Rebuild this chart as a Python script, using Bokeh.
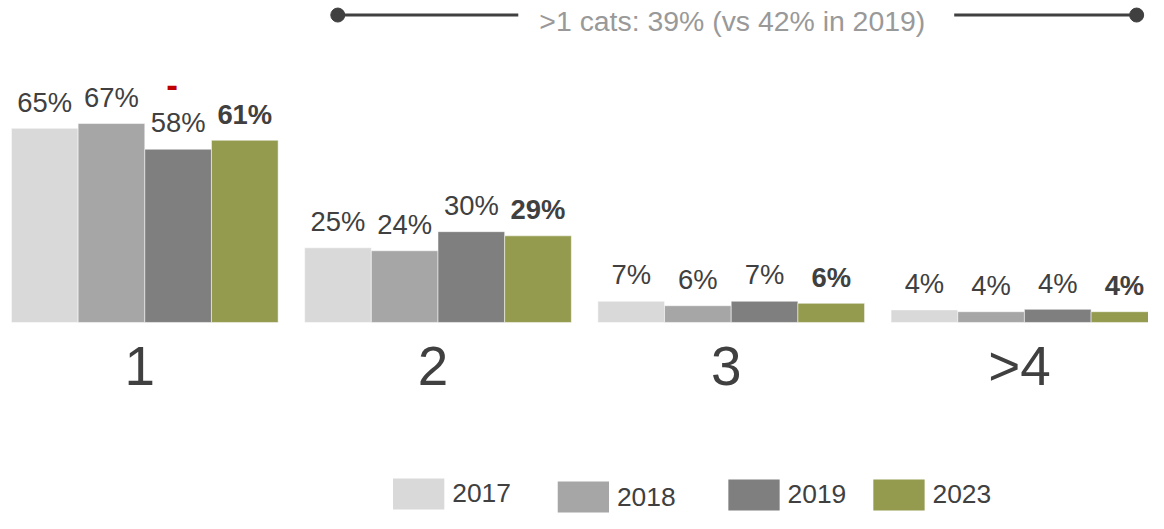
from bokeh.plotting import figure
from bokeh.models import Range1d, ColumnDataSource
from bokeh.embed import file_html
from bokeh.resources import INLINE
from bokeh.core.properties import value

# ---------------- data ----------------
categories = ["1", "2", "3", ">4"]
years = ["2017", "2018", "2019", "2023"]
v2017 = [65, 25, 7.1, 4.2]
v2018 = [66.6, 24, 5.6, 3.6]
v2019 = [58, 30.4, 7.1, 4.4]
v2023 = [61, 29, 6.4, 3.6]
series = [v2017, v2018, v2019, v2023]
note_text = ">1 cats: 39% (vs 42% in 2019)"
change_mark = "-"

# ---------------- style / layout ----------------
colors = ["#d9d9d9", "#a6a6a6", "#7f7f7f", "#949b4e"]
FONT = value("Liberation Sans")
TXT = "#404040"
PX = 3.08          # reference pixels per percentage point
BASE = 332         # reference y of the baseline
REF_W, REF_H = 1164, 529
W, H = 1148, 513
K = (W / REF_W + H / REF_H) / 2   # font scale
BL = 0.36          # baseline correction (em)


def yv(ref_y):
    return (BASE - ref_y) / PX


def fs(px):
    return f"{px * K:.1f}px"


p = figure(width=W, height=H, x_range=Range1d(0, REF_W),
           y_range=Range1d(yv(REF_H), yv(0)),
           output_backend="svg", toolbar_location=None,
           x_axis_location=None, y_axis_location=None, min_border=0)
p.grid.visible = False
p.outline_line_color = None
p.background_fill_color = "white"
p.border_fill_color = "white"

GROUP0 = 146.3
GSTEP = 297.3
BW = 67.6
LAB_FS = 28

for j, (yr, vals, col) in enumerate(zip(years, series, colors)):
    xs = [GROUP0 + GSTEP * i + (j - 1.5) * BW for i in range(len(categories))]
    src = ColumnDataSource(dict(
        x=xs, top=vals,
        ly=[v + (17 + BL * LAB_FS) / PX for v in vals],
        lab=[f"{v:.0f}%" for v in vals],
    ))
    p.vbar(x="x", top="top", bottom=0, width=BW, source=src,
           fill_color=col, line_color="white", line_alpha=0.5, line_width=1)
    p.text(x="x", y="ly", text="lab", source=src, text_align="center",
           text_baseline="alphabetic", text_font=FONT, text_font_size=fs(LAB_FS),
           text_color=TXT, text_font_style="bold" if yr == "2023" else "normal")

# category labels
CAT_FS = 56
p.text(x=[GROUP0 + GSTEP * i - 5 for i in range(len(categories))],
       y=[yv(397 - BL * CAT_FS)] * len(categories), text=categories,
       text_align="center", text_baseline="alphabetic", text_font=FONT,
       text_font_size=fs(CAT_FS), text_color=TXT)

# red change mark above the 2019 bar of the first group
DASH_FS = 36
p.text(x=[174], y=[yv(100 - BL * DASH_FS)], text=[change_mark], text_align="center",
       text_baseline="alphabetic", text_font=FONT, text_font_size=fs(DASH_FS),
       text_font_style="bold", text_color="#c00000")

# top annotation
ly = yv(15)
p.segment(x0=[342, 967], y0=[ly, ly], x1=[525, 1152], y1=[ly, ly],
          line_color="#404040", line_width=3)
p.scatter(x=[342, 1152], y=[ly, ly], size=14, marker="circle",
          fill_color="#404040", line_color="#404040")
NOTE_FS = 29
p.text(x=[742], y=[yv(32 - BL * NOTE_FS)], text=[note_text], text_align="center",
       text_baseline="alphabetic", text_font=FONT, text_font_size=fs(NOTE_FS),
       text_color="#999999")

# legend (manual)
LEG_FS = 27
sq_left = [398, 565, 738, 885]
sq_top = [493, 496, 494, 494]
txt_base = [518, 522, 519, 519]
p.quad(left=sq_left, right=[l + 52 for l in sq_left],
       top=[yv(t) for t in sq_top], bottom=[yv(t + 32) for t in sq_top],
       fill_color=colors, line_color=None)
p.text(x=[l + 60 for l in sq_left], y=[yv(b - BL * LEG_FS) for b in txt_base],
       text=years, text_align="left", text_baseline="alphabetic", text_font=FONT,
       text_font_size=fs(LEG_FS), text_color=TXT)

open("out.html", "w").write(file_html(p, INLINE))
